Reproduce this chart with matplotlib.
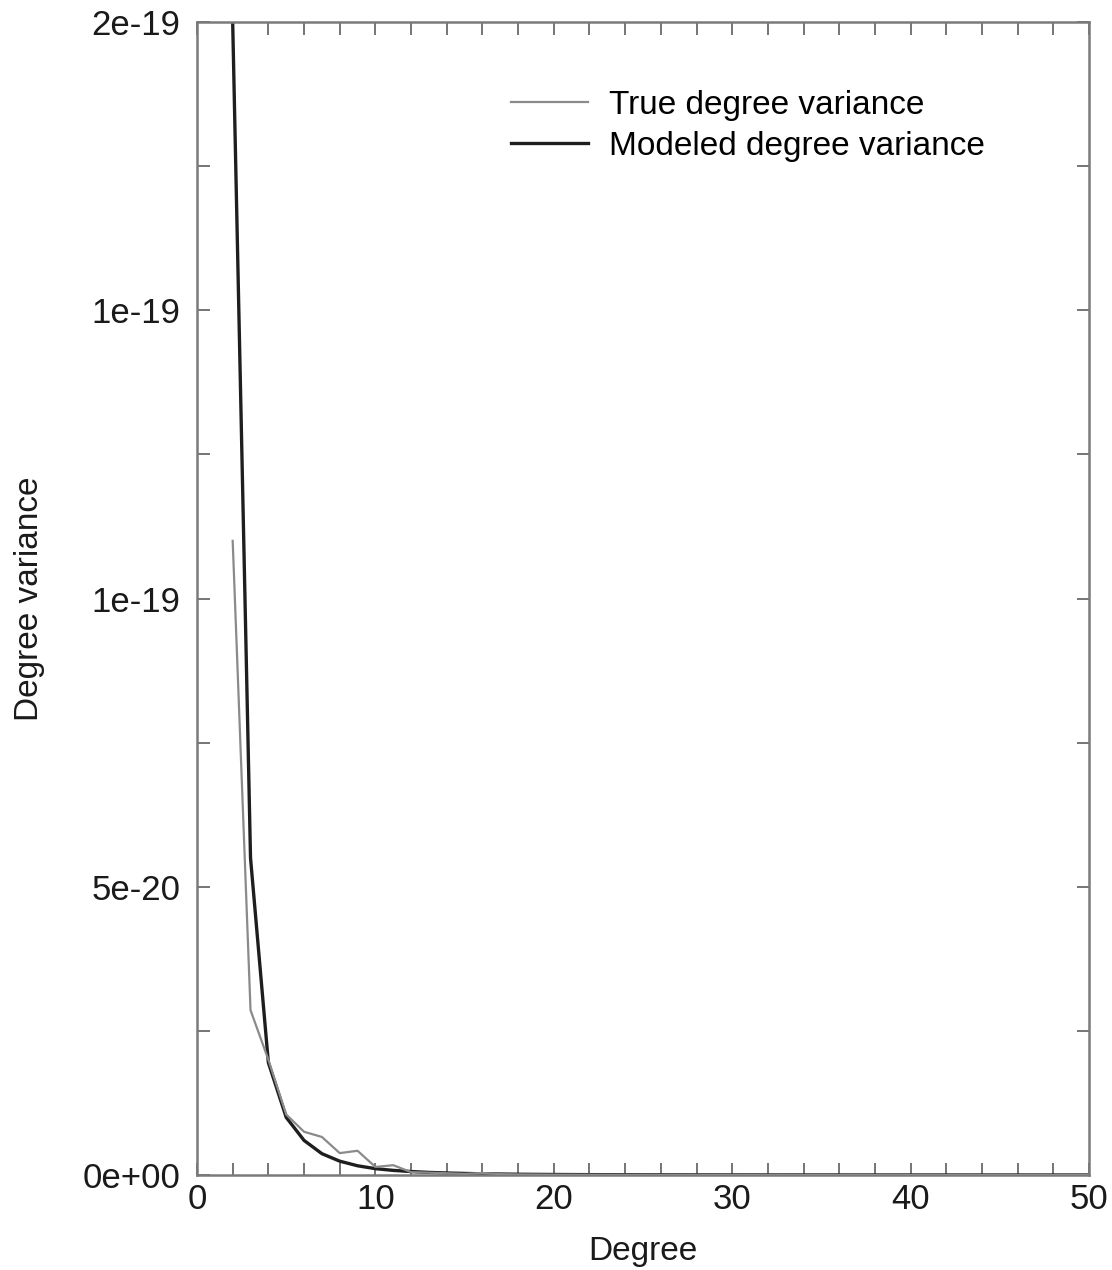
import matplotlib
matplotlib.use("Agg")
import matplotlib.pyplot as plt
from matplotlib.ticker import MultipleLocator, FixedLocator

plt.rcParams['font.family'] = ['Liberation Sans', 'DejaVu Sans']

degrees = list(range(2, 51))

true_variance = [
    1.10e-19, 2.86e-20, 2.00e-20, 1.05e-20, 7.5e-21, 6.6e-21, 3.8e-21, 4.2e-21,
    1.4e-21, 1.7e-21, 5.0e-22, 4.0e-22, 3.0e-22, 2.0e-22, 3.5e-22, 1.5e-22,
    1.0e-22, 8.0e-23, 6.0e-23, 5.0e-23, 4.5e-23, 4.0e-23, 3.5e-23, 3.0e-23,
    2.8e-23, 2.5e-23, 2.2e-23, 2.0e-23, 1.8e-23, 1.6e-23, 1.5e-23, 1.4e-23,
    1.3e-23, 1.2e-23, 1.1e-23, 1.0e-23, 9.0e-24, 8.5e-24, 8.0e-24, 7.5e-24,
    7.0e-24, 6.5e-24, 6.0e-24, 5.5e-24, 5.0e-24, 4.8e-24, 4.5e-24, 4.2e-24,
    4.0e-24,
]

modeled_variance = [
    2.00e-19, 5.50e-20, 1.95e-20, 1.00e-20, 6.0e-21, 3.7e-21, 2.4e-21, 1.6e-21,
    1.1e-21, 8.0e-22, 6.0e-22, 4.5e-22, 3.5e-22, 2.7e-22, 2.1e-22, 1.7e-22,
    1.3e-22, 1.1e-22, 9.0e-23, 7.5e-23, 6.3e-23, 5.3e-23, 4.5e-23, 3.9e-23,
    3.4e-23, 2.9e-23, 2.5e-23, 2.2e-23, 2.0e-23, 1.8e-23, 1.6e-23, 1.4e-23,
    1.3e-23, 1.2e-23, 1.1e-23, 1.0e-23, 9.0e-24, 8.2e-24, 7.5e-24, 6.9e-24,
    6.3e-24, 5.8e-24, 5.3e-24, 4.9e-24, 4.5e-24, 4.2e-24, 3.9e-24, 3.6e-24,
    3.4e-24,
]

y_tick_values = [0.0, 0.5e-19, 1.0e-19, 1.5e-19, 2.0e-19]
y_tick_labels = ['0e+00', '5e-20', '1e-19', '1e-19', '2e-19']
x_tick_values = [0, 10, 20, 30, 40, 50]

fig = plt.figure(figsize=(11.12, 12.70), dpi=100)
ax = fig.add_axes([197/1112, 1 - 1175/1270, (1089 - 197)/1112, (1175 - 22)/1270])

ax.plot(degrees, true_variance, color='#8a8a8a', lw=1.6, label='True degree variance', zorder=3)
ax.plot(degrees, modeled_variance, color='#1e1e1e', lw=2.4, label='Modeled degree variance',
        zorder=2, clip_on=True)

ax.set_xlim(0, 50)
ax.set_ylim(0, 2e-19)
ax.xaxis.set_major_locator(FixedLocator(x_tick_values))
ax.xaxis.set_minor_locator(MultipleLocator(2))
ax.yaxis.set_major_locator(FixedLocator(y_tick_values))
ax.set_yticklabels(y_tick_labels)
ax.yaxis.set_minor_locator(MultipleLocator(0.25e-19))

for s in ax.spines.values():
    s.set_color('#7a7a7a')
    s.set_linewidth(1.8)

ax.tick_params(which='both', direction='in', top=True, right=True, color='#6a6a6a',
               width=1.3, labelsize=25, labelcolor='#1a1a1a')
ax.tick_params(which='major', length=9)
ax.tick_params(which='minor', length=9)
ax.tick_params(axis='x', which='major', pad=6)
ax.tick_params(axis='y', which='major', pad=12)

ax.set_xlabel('Degree', fontsize=24, color='#1a1a1a', labelpad=14)
ax.set_ylabel('Degree variance', fontsize=24, color='#1a1a1a', labelpad=27)

leg = ax.legend(loc='upper left', bbox_to_anchor=(0.352, 0.941), frameon=False,
                fontsize=24, handlelength=2.3, handletextpad=0.65, labelspacing=0.3,
                borderpad=0, borderaxespad=0)

fig.savefig('out.png', dpi=100, facecolor='white')
